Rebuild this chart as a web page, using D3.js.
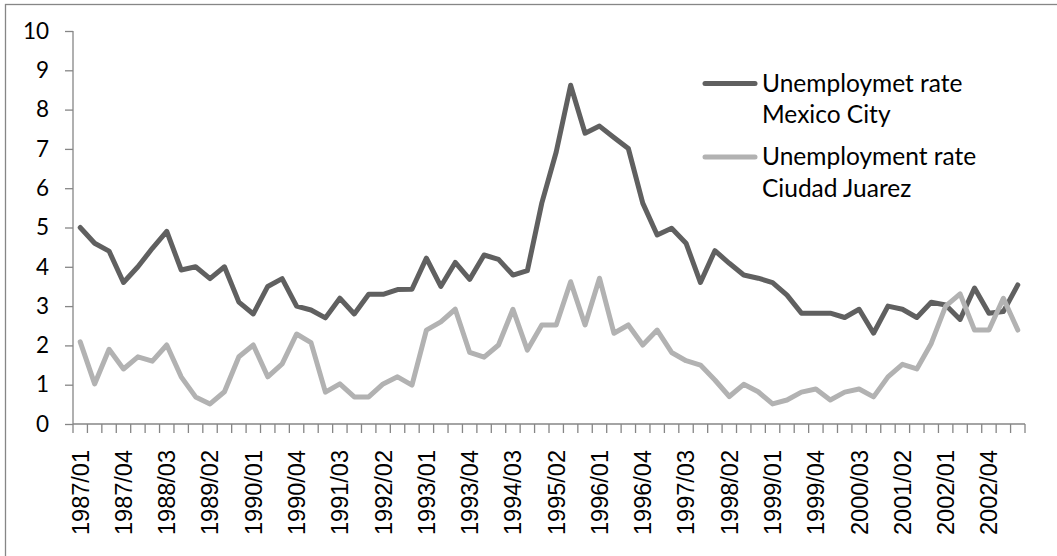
<!DOCTYPE html>
<html>
<head>
<meta charset="utf-8">
<script src="https://cdn.jsdelivr.net/npm/d3@7"></script>
<style>
    html, body { margin: 0; padding: 0; background: #ffffff; }
    svg { display: block; }
</style>
</head>
<body>
<div id="chart"></div>
<script>
(function () {
    "use strict";

    const quarters = [
        "1987/01", "1987/02", "1987/03", "1987/04", "1988/01", "1988/02", "1988/03", "1988/04",
        "1989/01", "1989/02", "1989/03", "1989/04", "1990/01", "1990/02", "1990/03", "1990/04",
        "1991/01", "1991/02", "1991/03", "1991/04", "1992/01", "1992/02", "1992/03", "1992/04",
        "1993/01", "1993/02", "1993/03", "1993/04", "1994/01", "1994/02", "1994/03", "1994/04",
        "1995/01", "1995/02", "1995/03", "1995/04", "1996/01", "1996/02", "1996/03", "1996/04",
        "1997/01", "1997/02", "1997/03", "1997/04", "1998/01", "1998/02", "1998/03", "1998/04",
        "1999/01", "1999/02", "1999/03", "1999/04", "2000/01", "2000/02", "2000/03", "2000/04",
        "2001/01", "2001/02", "2001/03", "2001/04", "2002/01", "2002/02", "2002/03", "2002/04",
        "2003/01", "2003/02"
    ];

    const mexicoCity = [
        5.0, 4.6, 4.4, 3.6, 4.0, 4.47, 4.9, 3.92, 4.0, 3.7, 4.0, 3.1,
        2.8, 3.5, 3.7, 3.0, 2.9, 2.7, 3.2, 2.8, 3.3, 3.3, 3.42, 3.43,
        4.22, 3.5, 4.11, 3.68, 4.3, 4.19, 3.79, 3.9, 5.62, 6.92, 8.62, 7.4,
        7.58, 7.29, 7.01, 5.62, 4.81, 4.98, 4.6, 3.6, 4.41, 4.09, 3.79, 3.71,
        3.6, 3.28, 2.82, 2.82, 2.82, 2.71, 2.92, 2.31, 3.0, 2.92, 2.71, 3.1,
        3.03, 2.66, 3.46, 2.82, 2.86, 3.54
    ];

    const ciudadJuarez = [
        2.09, 1.02, 1.9, 1.4, 1.71, 1.6, 2.01, 1.2, 0.69, 0.51, 0.82, 1.71,
        2.01, 1.2, 1.53, 2.29, 2.07, 0.81, 1.02, 0.69, 0.69, 1.02, 1.2, 0.99,
        2.39, 2.6, 2.92, 1.82, 1.7, 2.01, 2.92, 1.88, 2.52, 2.52, 3.62, 2.52,
        3.71, 2.31, 2.52, 2.01, 2.39, 1.82, 1.61, 1.5, 1.12, 0.7, 1.01, 0.82,
        0.51, 0.61, 0.81, 0.89, 0.61, 0.81, 0.89, 0.69, 1.2, 1.52, 1.4, 2.05,
        3.0, 3.31, 2.39, 2.39, 3.2, 2.39
    ];

    const seriesNames = [
        ["Unemploymet rate", "Mexico City"],
        ["Unemployment rate", "Ciudad Juarez"]
    ];

    const seriesColors = ["#606060", "#b2b2b2"];
    const yTicks = [0, 1, 2, 3, 4, 5, 6, 7, 8, 9, 10];

    const width = 1057;
    const height = 556;
    const margin = { top: 31, right: 32, bottom: 132, left: 73 };
    const axisColor = "#868686";

    const svg = d3.select("#chart")
        .append("svg")
        .attr("width", width)
        .attr("height", height);

    // chart area border (right/bottom run off the picture)
    svg.append("rect")
        .attr("x", 5.5)
        .attr("y", 4.5)
        .attr("width", width + 20)
        .attr("height", height + 20)
        .attr("fill", "none")
        .attr("stroke", axisColor)
        .attr("stroke-width", 1.3);

    const x = d3.scaleBand()
        .domain(quarters)
        .range([margin.left, width - margin.right])
        .padding(0);

    const y = d3.scaleLinear()
        .domain([0, 10])
        .range([height - margin.bottom, margin.top]);

    const y0 = y(0);

    // y axis
    const yAxis = svg.append("g")
        .attr("transform", `translate(${margin.left},0)`)
        .call(d3.axisLeft(y).tickValues(yTicks).tickSize(8).tickPadding(16).tickFormat(d3.format("d")));

    yAxis.selectAll("path, line")
        .attr("stroke", axisColor)
        .attr("stroke-width", 1.3);
    yAxis.select(".domain").attr("d", `M0,${y(10)}V${y0}`);
    yAxis.selectAll("text")
        .attr("fill", "#000000")
        .style("font", "22.5px Lato, 'Open Sans', sans-serif");

    // x axis line and boundary ticks
    const xAxis = svg.append("g");

    xAxis.append("line")
        .attr("x1", x.range()[0])
        .attr("x2", x.range()[1])
        .attr("y1", y0)
        .attr("y2", y0)
        .attr("stroke", axisColor)
        .attr("stroke-width", 1.3);

    const boundaries = quarters.map((q) => x(q)).concat([x.range()[1]]);

    xAxis.selectAll("line.tick")
        .data(boundaries)
        .join("line")
        .attr("class", "tick")
        .attr("x1", (d) => d)
        .attr("x2", (d) => d)
        .attr("y1", y0)
        .attr("y2", y0 + 9)
        .attr("stroke", axisColor)
        .attr("stroke-width", 1.3);

    xAxis.selectAll("text")
        .data(quarters.filter((q, i) => i % 3 === 0))
        .join("text")
        .attr("transform", (d) => `translate(${x(d) + x.bandwidth() / 2},${y0 + 26}) rotate(-90)`)
        .attr("text-anchor", "end")
        .attr("dy", "0.36em")
        .attr("fill", "#000000")
        .style("font", "23.5px 'Liberation Sans', Arial, sans-serif")
        .text((d) => d);

    // series lines
    const line = d3.line()
        .x((d, i) => x(quarters[i]) + x.bandwidth() / 2)
        .y((d) => y(d));

    [mexicoCity, ciudadJuarez].forEach((values, k) => {
        svg.append("path")
            .datum(values)
            .attr("fill", "none")
            .attr("stroke", seriesColors[k])
            .attr("stroke-width", 5)
            .attr("stroke-linejoin", "round")
            .attr("stroke-linecap", "round")
            .attr("d", line);
    });

    // legend
    const legend = svg.append("g");
    const legendRows = [83.5, 157];

    seriesNames.forEach((lines, k) => {
        const top = legendRows[k];
        legend.append("line")
            .attr("x1", 705)
            .attr("x2", 755)
            .attr("y1", top)
            .attr("y2", top)
            .attr("stroke", seriesColors[k])
            .attr("stroke-width", 5)
            .attr("stroke-linecap", "round");

        legend.append("text")
            .attr("x", 762)
            .attr("y", top + 8.3)
            .attr("fill", "#000000")
            .style("font", "24.5px Lato, 'Open Sans', sans-serif")
            .selectAll("tspan")
            .data(lines)
            .join("tspan")
            .attr("x", 762)
            .attr("dy", (d, i) => i === 0 ? 0 : 31.3)
            .text((d) => d);
    });
})();
</script>
</body>
</html>
